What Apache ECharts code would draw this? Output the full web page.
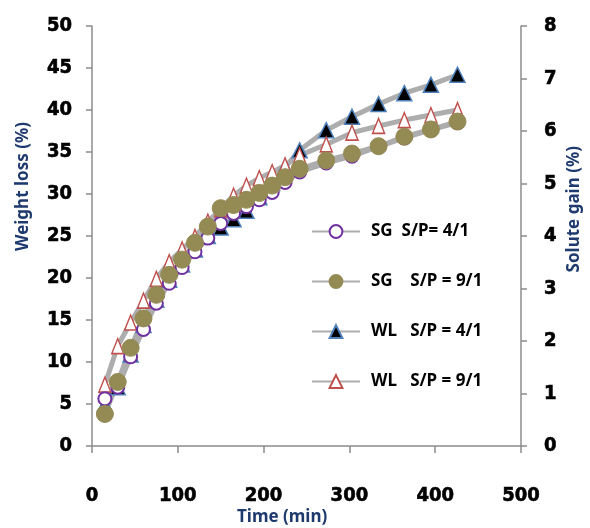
<!DOCTYPE html>
<html>
<head>
<meta charset="utf-8">
<script src="https://cdn.jsdelivr.net/npm/echarts@6/dist/echarts.min.js"></script>
<style>
  html, body { margin: 0; padding: 0; background: #fff; }
  #chart { width: 590px; height: 528px; }
</style>
</head>
<body>
<div id="chart"></div>
<script>
// Sampling times (min)
const timeMin = [15, 30, 45, 60, 75, 90, 105, 120, 135, 150, 165, 180, 195, 210, 225, 242, 273, 303, 334, 364, 395, 426];

// Solute gain (%), right axis
const sg41 = [0.90, 1.12, 1.70, 2.22, 2.72, 3.10, 3.40, 3.70, 3.96, 4.24, 4.43, 4.56, 4.69, 4.83, 5.02, 5.22, 5.39, 5.52, 5.70, 5.87, 6.02, 6.16];
const sg91 = [0.61, 1.22, 1.87, 2.43, 2.88, 3.26, 3.55, 3.87, 4.18, 4.53, 4.59, 4.69, 4.82, 4.96, 5.12, 5.28, 5.44, 5.57, 5.71, 5.89, 6.03, 6.18];

// Weight loss (%), left axis
const wl41 = [4.9, 7.0, 10.9, 14.4, 17.4, 19.8, 21.6, 23.4, 25.0, 26.0, 27.0, 28.0, 29.6, 31.3, 33.2, 35.2, 37.6, 39.2, 40.7, 42.0, 43.0, 44.2];
const wl91 = [7.3, 11.9, 14.7, 17.3, 19.9, 21.9, 23.4, 24.9, 26.7, 28.2, 29.8, 31.0, 31.9, 32.6, 33.4, 34.6, 35.9, 37.3, 38.1, 38.8, 39.4, 40.0];

const names = ['SG  S/P= 4/1', 'SG    S/P = 9/1', 'WL   S/P = 4/1', 'WL   S/P = 9/1'];

const pts = arr => timeMin.map((t, i) => [t, arr[i]]);

const tickFont = {
  fontFamily: '"DejaVu Sans Condensed", sans-serif', fontWeight: 'bold', fontSize: 20, color: '#000',
  textBorderColor: '#000', textBorderWidth: 0.6
};
const axisGray = '#8c8c8c';
const titleColor = '#1f3a6e';
const titleFont = '"Noto Sans", "Open Sans", sans-serif';
const lineGray = '#adadad';

const chart = echarts.init(document.getElementById('chart'), null, { renderer: 'canvas' });

chart.setOption({
  animation: false,
  backgroundColor: '#fff',
  grid: { left: 92, right: 69, top: 26, bottom: 82, containLabel: false },
  xAxis: {
    type: 'value', min: 0, max: 500, interval: 100,
    axisLine: { show: true, lineStyle: { color: axisGray, width: 1.5 } },
    axisTick: { show: true, inside: false, length: 7, lineStyle: { color: axisGray, width: 1.5 } },
    axisLabel: Object.assign({ margin: 40 }, tickFont),
    splitLine: { show: false }
  },
  yAxis: [
    {
      type: 'value', min: 0, max: 50, interval: 5, position: 'left',
      axisLine: { show: true, lineStyle: { color: axisGray, width: 1.5 } },
      axisTick: { show: true, length: 6, lineStyle: { color: axisGray, width: 1.5 } },
      axisLabel: Object.assign({ margin: 20 }, tickFont),
      splitLine: { show: false }
    },
    {
      type: 'value', min: 0, max: 8, interval: 1, position: 'right',
      axisLine: { show: true, lineStyle: { color: axisGray, width: 1.5 } },
      axisTick: { show: true, length: 6, lineStyle: { color: axisGray, width: 1.5 } },
      axisLabel: Object.assign({ margin: 23 }, tickFont),
      splitLine: { show: false }
    }
  ],
  legend: {
    data: names,
    orient: 'vertical',
    left: 306, top: 218,
    itemWidth: 48, itemHeight: 16, itemGap: 33,
    textStyle: { fontFamily: titleFont, fontWeight: 'bold', fontSize: 17, color: '#000', padding: [0, 0, 0, 6] }
  },
  graphic: [
    { type: 'text', left: 15, top: 122, rotation: Math.PI / 2,
      style: { text: 'Weight loss (%)', font: 'bold 17px ' + titleFont, fill: titleColor } },
    { type: 'text', left: 566, top: 146, rotation: Math.PI / 2,
      style: { text: 'Solute gain (%)', font: 'bold 17px ' + titleFont, fill: titleColor } },
    { type: 'text', left: 237, top: 509,
      style: { text: 'Time (min)', font: 'bold 17px ' + titleFont, fill: titleColor } }
  ],
  series: [
    {
      name: names[2], type: 'line', yAxisIndex: 0, data: pts(wl41),
      symbol: 'triangle', symbolSize: [15, 15],
      lineStyle: { color: lineGray, width: 5 },
      itemStyle: { color: '#000', borderColor: '#4f81bd', borderWidth: 1.5 }
    },
    {
      name: names[3], type: 'line', yAxisIndex: 0, data: pts(wl91),
      symbol: 'triangle', symbolSize: [12, 15],
      lineStyle: { color: lineGray, width: 5 },
      itemStyle: { color: '#fff', borderColor: '#c0504d', borderWidth: 1.5 }
    },
    {
      name: names[0], type: 'line', yAxisIndex: 1, data: pts(sg41),
      symbol: 'circle', symbolSize: 13,
      lineStyle: { color: lineGray, width: 5 },
      itemStyle: { color: '#fff', borderColor: '#7030a0', borderWidth: 2 }
    },
    {
      name: names[1], type: 'line', yAxisIndex: 1, data: pts(sg91),
      symbol: 'circle', symbolSize: 17,
      lineStyle: { color: lineGray, width: 5 },
      itemStyle: { color: '#948a54', borderColor: '#948a54', borderWidth: 1 }
    }
  ]
});
</script>
</body>
</html>
